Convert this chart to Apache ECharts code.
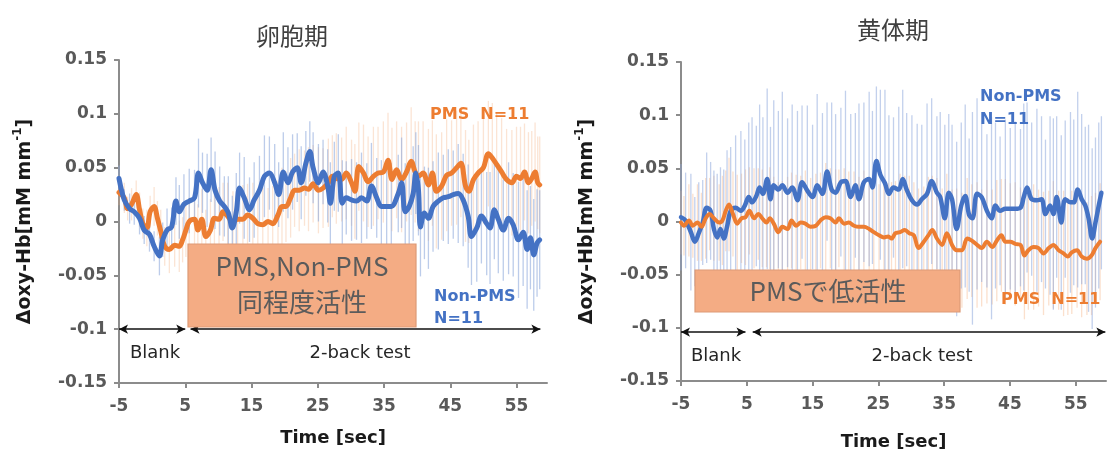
<!DOCTYPE html>
<html>
<head>
<meta charset="utf-8">
<script src="https://cdn.jsdelivr.net/npm/echarts@6/dist/echarts.min.js"></script>
<style>
html,body{margin:0;padding:0;background:#fff;}
#c{width:1109px;height:456px;}
</style>
</head>
<body>
<div id="c"></div>
<script>
// ---------- DATA ----------
const titles = ['卵胞期', '黄体期'];
const xTicks = [-5, 5, 15, 25, 35, 45, 55];
const yTicks = [-0.15, -0.1, -0.05, 0, 0.05, 0.1, 0.15];

// Follicular phase (left) — Non-PMS (blue) [time, mean]
const follNonPMS = [
 [-5,0.040],[-4.2,0.020],[-3.4,0.012],[-2.7,0.009],[-1.9,0.003],[-1.2,-0.008],[-0.4,-0.012],[0.3,-0.023],[1.1,-0.032],[1.6,-0.017],
 [2.25,-0.008],[2.95,-0.005],[3.6,0.019],[4.1,0.009],[4.8,0.016],[5.6,0.019],[6.4,0.022],[7.0,0.045],[7.6,0.036],[8.3,0.029],
 [8.9,0.048],[9.5,0.029],[10.2,0.019],[10.9,0.014],[11.5,0.008],[12.1,-0.006],[12.7,0.009],[13.2,0.031],[13.9,0.022],[14.7,0.011],
 [15.4,0.020],[16.2,0.029],[16.95,0.042],[17.7,0.045],[18.5,0.036],[19.1,0.025],[19.8,0.046],[20.5,0.036],[21.2,0.046],[21.9,0.050],
 [22.5,0.036],[23.2,0.054],[23.8,0.065],[24.3,0.050],[25.1,0.036],[25.8,0.046],[26.5,0.033],[26.9,0.017],[27.5,0.042],[28.1,0.045],
 [28.7,0.017],[29.3,0.022],[30.1,0.020],[30.85,0.019],[31.6,0.022],[32.4,0.019],[33.1,0.033],[33.9,0.022],[34.6,0.014],[35.4,0.014],
 [36.1,0.014],[37.15,0.026],[37.65,0.036],[38.2,0.009],[38.8,0.014],[39.4,0.026],[39.8,0.045],[40.2,0.029],[40.5,-0.005],[41.1,0.008],
 [41.7,0.003],[42.4,0.014],[43.2,0.019],[43.95,0.022],[44.7,0.023],[45.45,0.025],[46.2,0.026],[46.95,0.020],[47.7,0.005],[48.2,-0.014],
 [49.0,-0.006],[49.7,0.005],[50.5,-0.002],[51.0,-0.006],[51.65,0.011],[52.25,0.002],[53.0,-0.008],[53.8,0.003],[54.5,-0.003],[55.3,-0.017],
 [56.0,-0.010],[56.6,-0.026],[57.1,-0.015],[57.6,-0.031],[58.1,-0.020],[58.5,-0.017]
];
const follNonPMSErr = [
 0.012,0.010,0.014,0.012,0.015,0.013,0.016,0.014,0.018,0.016,
 0.020,0.018,0.022,0.025,0.028,0.030,0.026,0.032,0.028,0.034,
 0.030,0.036,0.032,0.028,0.034,0.030,0.036,0.033,0.038,0.030,
 0.035,0.032,0.038,0.034,0.036,0.030,0.037,0.033,0.035,0.032,
 0.034,0.030,0.028,0.033,0.036,0.030,0.034,0.038,0.032,0.036,
 0.040,0.034,0.038,0.036,0.042,0.035,0.040,0.037,0.043,0.038,
 0.040,0.036,0.042,0.045,0.040,0.044,0.038,0.042,0.046,0.043,
 0.047,0.042,0.045,0.040,0.044,0.041,0.046,0.043,0.048,0.045,
 0.050,0.044,0.048,0.052,0.046,0.050,0.047,0.052,0.048,0.054,
 0.050,0.055,0.048,0.052,0.050,0.046
];

// Follicular phase (left) — PMS (orange)
const follPMS = [
 [-5,0.027],[-4.2,0.022],[-3.7,0.012],[-3.1,0.016],[-2.4,0.025],[-1.9,0.011],[-1.4,-0.002],[-0.8,-0.006],[-0.3,0.009],[0.3,0.014],
 [0.8,0.003],[1.3,-0.009],[1.9,-0.023],[2.6,-0.026],[3.4,-0.022],[4.1,-0.023],[4.6,-0.017],[5.1,-0.008],[5.6,0.000],[6.4,0.002],
 [6.9,-0.008],[7.5,0.002],[8.1,-0.014],[8.8,-0.008],[9.4,0.003],[10.1,0.002],[10.7,0.009],[11.4,0.005],[12.2,0.000],[12.9,0.002],
 [13.7,0.002],[14.4,0.006],[15.2,0.003],[15.95,-0.002],[16.7,-0.003],[17.5,0.000],[18.2,-0.002],[19.0,0.006],[19.6,0.014],[20.2,0.014],
 [20.9,0.022],[21.5,0.029],[22.2,0.029],[23.0,0.031],[23.6,0.030],[24.3,0.035],[25.1,0.029],[25.8,0.031],[26.6,0.036],[27.2,0.042],
 [27.8,0.040],[28.6,0.039],[29.3,0.045],[30.1,0.036],[30.6,0.028],[31.2,0.051],[31.9,0.045],[32.6,0.037],[33.4,0.042],[34.1,0.045],
 [34.9,0.046],[35.6,0.057],[36.2,0.039],[36.9,0.048],[37.65,0.039],[38.4,0.046],[39.1,0.056],[39.7,0.046],[40.2,0.042],[40.9,0.045],
 [41.7,0.034],[42.3,0.045],[42.9,0.028],[43.7,0.033],[44.45,0.043],[45.2,0.045],[45.95,0.050],[46.6,0.054],[47.3,0.033],[47.8,0.028],
 [48.5,0.039],[49.2,0.045],[50.0,0.050],[50.75,0.063],[51.35,0.059],[52.0,0.053],[52.75,0.046],[53.5,0.039],[54.3,0.036],[55.0,0.042],
 [55.6,0.040],[56.2,0.046],[56.8,0.036],[57.3,0.040],[57.8,0.046],[58.2,0.036],[58.5,0.034]
];
const follPMSErr = [
 0.012,0.014,0.011,0.015,0.013,0.016,0.014,0.017,0.015,0.018,
 0.016,0.020,0.018,0.022,0.020,0.024,0.021,0.025,0.022,0.026,
 0.024,0.028,0.025,0.029,0.026,0.030,0.027,0.031,0.028,0.030,
 0.032,0.029,0.033,0.030,0.034,0.031,0.035,0.032,0.036,0.033,
 0.037,0.034,0.038,0.035,0.039,0.036,0.040,0.037,0.041,0.038,
 0.042,0.039,0.043,0.040,0.044,0.041,0.045,0.042,0.046,0.043,
 0.047,0.044,0.048,0.045,0.049,0.046,0.050,0.047,0.051,0.048,
 0.052,0.049,0.053,0.050,0.052,0.049,0.053,0.050,0.052,0.048,
 0.051,0.048,0.052,0.049,0.051,0.048,0.050,0.047,0.049,0.046,
 0.048,0.045,0.047,0.044,0.046,0.043,0.045
];

// Luteal phase (right) — Non-PMS (blue)
const lutNonPMS = [
 [-5,0.004],[-4.3,0.001],[-3.5,-0.010],[-2.9,-0.019],[-2.3,-0.011],[-1.7,-0.001],[-1.1,0.013],[-0.5,0.010],[0.0,-0.007],[0.5,-0.015],
 [1.0,-0.007],[1.5,-0.016],[2.0,-0.005],[2.55,0.010],[3.3,0.013],[4.1,0.010],[4.7,0.015],[5.3,0.023],[5.8,0.018],[6.45,0.024],
 [6.95,0.032],[7.45,0.026],[8.1,0.040],[8.6,0.021],[9.1,0.034],[9.8,0.030],[10.4,0.034],[11.2,0.027],[11.9,0.032],[12.7,0.020],
 [13.4,0.037],[14.2,0.029],[15.0,0.023],[15.7,0.034],[16.5,0.026],[17.2,0.047],[17.9,0.030],[18.5,0.027],[19.3,0.037],[20.0,0.038],
 [20.8,0.023],[21.5,0.034],[22.05,0.021],[22.8,0.037],[23.6,0.040],[24.1,0.032],[24.7,0.057],[25.3,0.044],[26.0,0.036],[26.6,0.026],
 [27.3,0.032],[28.1,0.030],[28.7,0.040],[29.3,0.030],[30.1,0.020],[30.9,0.016],[31.6,0.021],[32.4,0.026],[33.1,0.038],[33.9,0.027],
 [34.4,0.023],[35.1,0.003],[35.7,0.027],[36.2,0.021],[36.9,-0.007],[37.6,0.015],[38.2,0.024],[38.8,0.006],[39.3,0.003],[40.0,0.026],
 [40.7,0.023],[41.5,0.010],[42.2,0.003],[42.8,0.015],[43.5,0.010],[44.3,0.012],[45.05,0.012],[45.8,0.012],[46.6,0.013],[47.1,0.023],
 [47.6,0.032],[48.3,0.021],[49.1,0.020],[49.8,0.021],[50.4,0.007],[51.1,0.015],[51.6,0.007],[52.1,0.023],[52.8,-0.001],[53.4,0.021],
 [54.2,0.018],[54.7,0.018],[55.3,0.030],[55.9,0.021],[56.45,0.015],[56.95,0.003],[57.5,-0.016],[58.0,-0.001],[58.5,0.015],[58.9,0.027]
];
const lutNonPMSErr = [
 0.050,0.045,0.055,0.042,0.048,0.040,0.052,0.046,0.055,0.060,
 0.058,0.065,0.072,0.060,0.068,0.075,0.062,0.070,0.080,0.066,
 0.078,0.072,0.085,0.068,0.080,0.074,0.088,0.070,0.078,0.084,
 0.072,0.080,0.068,0.086,0.076,0.065,0.082,0.074,0.070,0.085,
 0.078,0.068,0.090,0.075,0.082,0.072,0.070,0.080,0.088,0.074,
 0.066,0.078,0.084,0.072,0.080,0.076,0.070,0.085,0.078,0.072,
 0.080,0.088,0.074,0.070,0.082,0.078,0.086,0.072,0.100,0.090,
 0.080,0.072,0.095,0.078,0.070,0.084,0.076,0.082,0.074,0.088,
 0.080,0.072,0.086,0.078,0.070,0.084,0.090,0.076,0.082,0.074,
 0.085,0.078,0.092,0.080,0.074,0.088,0.085,0.080,0.078,0.072
];

// Luteal phase (right) — PMS (orange)
const lutPMS = [
 [-5,-0.001],[-4.55,-0.004],[-3.8,0.001],[-3.2,-0.004],[-2.5,-0.001],[-1.9,-0.005],[-1.25,0.003],[-0.65,0.007],[0.0,0.003],[0.8,-0.001],
 [1.3,0.001],[1.8,0.010],[2.3,0.016],[2.9,0.007],[3.55,-0.002],[4.2,0.003],[4.8,0.004],[5.4,0.010],[6.1,0.003],[6.75,0.007],
 [7.35,0.003],[8.0,-0.001],[8.5,0.003],[9.1,-0.002],[9.8,-0.010],[10.4,-0.005],[11.2,-0.007],[11.8,0.001],[12.5,-0.004],[13.2,-0.001],
 [13.9,-0.002],[14.7,-0.005],[15.5,-0.004],[16.2,0.001],[17.0,0.004],[17.7,0.003],[18.5,-0.001],[19.0,0.003],[19.8,-0.002],[20.5,-0.001],
 [21.3,-0.004],[22.05,-0.005],[22.8,-0.005],[23.6,-0.007],[24.3,-0.010],[25.1,-0.013],[25.85,-0.015],[26.5,-0.014],[27.0,-0.016],[27.6,-0.011],
 [28.3,-0.010],[29.0,-0.008],[29.7,-0.011],[30.4,-0.013],[31.1,-0.025],[31.9,-0.019],[32.6,-0.013],[33.2,-0.008],[33.9,-0.016],[34.7,-0.022],
 [35.4,-0.011],[36.2,-0.022],[36.9,-0.027],[37.7,-0.027],[38.5,-0.016],[39.2,-0.018],[40.0,-0.022],[40.7,-0.025],[41.5,-0.019],[42.3,-0.024],
 [43.0,-0.018],[43.7,-0.013],[44.3,-0.019],[45.05,-0.019],[45.8,-0.021],[46.6,-0.022],[47.2,-0.032],[47.8,-0.027],[48.6,-0.024],[49.35,-0.025],
 [50.1,-0.030],[50.9,-0.025],[51.6,-0.022],[52.4,-0.027],[53.15,-0.030],[53.8,-0.033],[54.4,-0.029],[55.2,-0.027],[55.9,-0.033],[56.7,-0.035],
 [57.4,-0.032],[58.0,-0.025],[58.7,-0.019]
];
const lutPMSErr = [
 0.030,0.028,0.034,0.030,0.036,0.032,0.038,0.034,0.040,0.036,
 0.042,0.038,0.044,0.040,0.046,0.042,0.045,0.041,0.047,0.043,
 0.046,0.042,0.048,0.044,0.047,0.043,0.049,0.045,0.048,0.044,
 0.050,0.046,0.049,0.045,0.051,0.047,0.050,0.046,0.052,0.048,
 0.051,0.047,0.053,0.049,0.052,0.048,0.054,0.050,0.053,0.049,
 0.055,0.051,0.054,0.050,0.056,0.052,0.055,0.051,0.057,0.053,
 0.056,0.052,0.058,0.054,0.057,0.053,0.059,0.055,0.058,0.054,
 0.057,0.053,0.059,0.055,0.058,0.054,0.060,0.056,0.059,0.055,
 0.058,0.054,0.060,0.056,0.059,0.055,0.058,0.054,0.057,0.053,
 0.056,0.052,0.055
];

// ---------- STYLE ----------
const BLUE = '#4472C4', ORANGE = '#ED7D31';
const AXIS = '#8C8C8C', TICKTXT = '#595959';
const LATIN = 'DejaVu Sans', JP = 'Noto Sans CJK JP';

function errData(pts, errs) {
  return pts.map((p, i) => {
    const e = errs[Math.min(i, errs.length - 1)];
    return [p[0], p[1] - e, p[1] + e];
  });
}
function errSeries(idx, pts, errs, color, op) {
  return {
    type: 'custom', xAxisIndex: idx, yAxisIndex: idx, z: 1, silent: true,
    encode: { x: 0, y: [1, 2] },
    data: errData(pts, errs),
    renderItem: function (params, api) {
      const a = api.coord([api.value(0), api.value(1)]);
      const b = api.coord([api.value(0), api.value(2)]);
      return { type: 'line', shape: { x1: a[0], y1: a[1], x2: b[0], y2: b[1] },
               style: { stroke: color, lineWidth: 1.3, opacity: op } };
    }
  };
}
function lineSeries(idx, pts, color, w, z, extra) {
  return Object.assign({
    type: 'line', xAxisIndex: idx, yAxisIndex: idx, z: z, data: pts,
    showSymbol: false, smooth: 0.35, silent: true,
    lineStyle: { color: color, width: w, cap: 'round', join: 'round' }
  }, extra || {});
}
function arrows(idx, y, segs) {
  return {
    markLine: {
      silent: true, symbol: ['arrow', 'arrow'], symbolSize: [7, 9],
      label: { show: false },
      lineStyle: { color: '#111', width: 1.6, type: 'solid' },
      data: segs.map(s => [{ coord: [s[0], y] }, { coord: [s[1], y] }])
    }
  };
}
function xAx(idx, gap) {
  return {
    type: 'value', gridIndex: idx, min: -5, max: 59.6,
    name: 'Time [sec]', nameLocation: 'middle', nameGap: gap,
    nameTextStyle: { fontFamily: LATIN, fontWeight: 'bold', fontSize: 18, color: '#1a1a1a' },
    axisLine: { onZero: false, lineStyle: { color: AXIS, width: 2 } },
    axisTick: { customValues: xTicks, length: 5, lineStyle: { color: AXIS, width: 2 } },
    axisLabel: { customValues: xTicks, margin: 15, fontFamily: LATIN, fontWeight: 'bold', fontSize: 17, color: TICKTXT },
    splitLine: { show: false }
  };
}
function yAx(idx) {
  return {
    type: 'value', gridIndex: idx, min: -0.15, max: 0.15,
    name: 'Δoxy-Hb[mM mm{sup|-1}]', nameLocation: 'middle', nameRotate: 90, nameGap: 80,
    nameTextStyle: { fontFamily: LATIN, fontWeight: 'bold', fontSize: 19, color: '#1a1a1a',
      rich: { sup: { fontFamily: LATIN, fontWeight: 'bold', fontSize: 12, color: '#1a1a1a', verticalAlign: 'top', lineHeight: 27 } } },
    axisLine: { show: true, onZero: false, lineStyle: { color: AXIS, width: 2 } },
    axisTick: { show: true, customValues: yTicks, length: 5, lineStyle: { color: AXIS, width: 2 } },
    axisLabel: { customValues: yTicks, margin: 12, fontFamily: LATIN, fontWeight: 'bold', fontSize: 17, color: TICKTXT,
      formatter: v => String(+(+v).toFixed(2)) },
    splitLine: { show: false }
  };
}
function txt(x, y, s, size, color, weight, family, align) {
  return { type: 'text', x: x, y: y, z: 100,
    style: { text: s, fontSize: size, fill: color, fontWeight: weight || 'normal',
      fontFamily: family || LATIN, align: align || 'left', verticalAlign: 'middle' } };
}

const chart = echarts.init(document.getElementById('c'), null, { renderer: 'canvas' });
chart.setOption({
  animation: false,
  backgroundColor: '#ffffff',
  grid: [
    { left: 119, top: 60, right: 562, bottom: 73 },
    { left: 681, top: 62, right: 3, bottom: 72 }
  ],
  xAxis: [xAx(0, 46), xAx(1, 52)],
  yAxis: [yAx(0), yAx(1)],
  series: [
    errSeries(0, follPMS, follPMSErr, '#F4B183', 0.35),
    errSeries(0, follNonPMS, follNonPMSErr, '#8FAADC', 0.6),
    lineSeries(0, follPMS, ORANGE, 5, 3),
    lineSeries(0, follNonPMS, BLUE, 5, 4, arrows(0, -0.1, [[-5, 5], [5.8, 58.6]])),
    errSeries(1, lutPMS, lutPMSErr, '#F4B183', 0.4),
    errSeries(1, lutNonPMS, lutNonPMSErr, '#8FAADC', 0.55),
    lineSeries(1, lutNonPMS, BLUE, 4.5, 3, arrows(1, -0.104, [[-5, 4.8], [5.9, 59.5]])),
    lineSeries(1, lutPMS, ORANGE, 4, 4)
  ],
  graphic: [
    txt(292, 36, titles[0], 24, '#404040', 'normal', JP, 'center'),
    txt(893, 30, titles[1], 24, '#404040', 'normal', JP, 'center'),
    // left annotations
    { type: 'rect', z: 100, shape: { x: 188, y: 244, width: 228, height: 83 },
      style: { fill: '#F4AC84', stroke: '#DD9A76', lineWidth: 1.2 } },
    txt(302, 266, 'PMS,Non-PMS', 26, '#5b5b5b', 'normal', JP, 'center'),
    txt(302, 302, '同程度活性', 26, '#5b5b5b', 'normal', JP, 'center'),
    txt(430, 115, 'PMS  N=11', 16, ORANGE, 'bold'),
    txt(434, 297, 'Non-PMS', 16, BLUE, 'bold'),
    txt(434, 319, 'N=11', 16, BLUE, 'bold'),
    txt(155, 353, 'Blank', 18, '#262626', 'normal', LATIN, 'center'),
    txt(360, 353, '2-back test', 18, '#262626', 'normal', LATIN, 'center'),
    // right annotations
    { type: 'rect', z: 100, shape: { x: 695, y: 270, width: 265, height: 42 },
      style: { fill: '#F4AC84', stroke: '#DD9A76', lineWidth: 1.2 } },
    txt(828, 291, 'PMSで低活性', 26, '#5b5b5b', 'normal', JP, 'center'),
    txt(980, 97, 'Non-PMS', 16, BLUE, 'bold'),
    txt(980, 120, 'N=11', 16, BLUE, 'bold'),
    txt(1001, 300, 'PMS  N=11', 16, ORANGE, 'bold'),
    txt(716, 356, 'Blank', 18, '#262626', 'normal', LATIN, 'center'),
    txt(922, 356, '2-back test', 18, '#262626', 'normal', LATIN, 'center')
  ]
});
</script>
</body>
</html>
